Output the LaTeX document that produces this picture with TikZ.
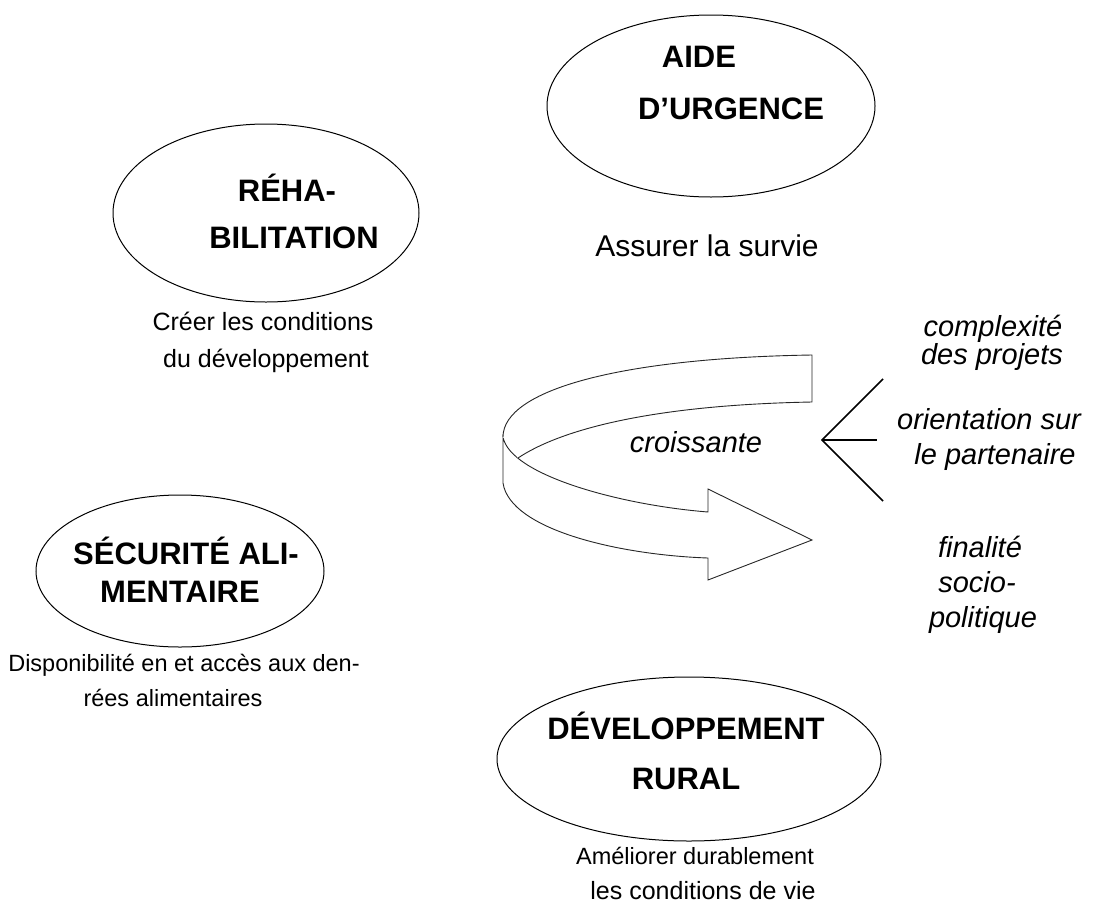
\documentclass[tikz,border=0pt]{standalone}
\usepackage{fontspec}
\setmainfont{Liberation Sans}
\usetikzlibrary{shapes.geometric}
\tikzstyle{phase}=[ellipse,draw,line width=1pt,inner sep=0pt]
\tikzstyle{head}=[font=\fontsize{31}{36}\selectfont\bfseries,anchor=base,inner sep=0pt]
\tikzstyle{goal}=[font=\fontsize{25}{30}\selectfont,anchor=base,inner sep=0pt]
\tikzstyle{trait}=[font=\fontsize{29}{34}\selectfont\itshape,anchor=base,inner sep=0pt]
\tikzstyle{band}=[draw=black!85,line width=0.9pt,fill=white]

\begin{document}
\begin{tikzpicture}[x=1pt,y=-1pt]
\useasboundingbox (0,0) rectangle (1094,921);

% ellipses
\node[phase,minimum width=328pt,minimum height=182pt] (urg) at (711,106) {};
\node[phase,minimum width=306pt,minimum height=178pt] (reh) at (266,213) {};
\node[phase,minimum width=288pt,minimum height=152pt] (sec) at (180,571) {};
\node[phase,minimum width=384pt,minimum height=164pt] (dev) at (689,759) {};

% titles
\node[head] (urg1) at (699,67)  {AIDE};
\node[head] (urg2) at (731,119) {D’URGENCE};
\node[head] (reh1) at (287,201) {RÉHA-};
\node[head] (reh2) at (294,248) {BILITATION};
\node[head] (sec1) at (186,564) {SÉCURITÉ ALI-};
\node[head] (sec2) at (180,602) {MENTAIRE};
\node[head] (dev1) at (686,739) {DÉVELOPPEMENT};
\node[head] (dev2) at (686,789) {RURAL};

% goals
\node[goal,font=\fontsize{30}{36}\selectfont] (urg3) at (707,256) {Assurer la survie};
\node[goal] (reh3) at (263,330) {Créer les conditions};
\node[goal] (reh4) at (266,367) {du développement};
\node[goal,font=\fontsize{23.5}{28}\selectfont] (sec3) at (184,671) {Disponibilité en et accès aux den-};
\node[goal,font=\fontsize{23.5}{28}\selectfont] (sec4) at (173,706) {rées alimentaires};
\node[goal,font=\fontsize{23.5}{28}\selectfont] (dev3) at (695,864) {Améliorer durablement};
\node[goal,font=\fontsize{25}{30}\selectfont] (dev4) at (703,899) {les conditions de vie};

% spiral arrow
\draw[band] (503,437) -- (503,483)
  .. controls (510,530) and (620,555) .. (708,558)
  -- (708,580) -- (812,540) -- (708,489) -- (708,512)
  .. controls (620,505) and (510,475) .. (503,437) -- cycle;
\draw[band] (503,437) .. controls (503,390) and (620,358) .. (812,355)
  -- (812,402) .. controls (650,405) and (560,430) .. (518,458);
\node[trait] (crs) at (696,452) {croissante};

% fork
\coordinate (fk) at (822,440);
\node[trait] (tr1) at (993,336) {complexité};
\node[trait] (tr2) at (992,364) {des projets};
\node[trait] (tr3) at (989,429) {orientation sur};
\node[trait] (tr4) at (995,464) {le partenaire};
\node[trait] (tr5) at (980,557) {finalité};
\node[trait] (tr6) at (977,592) {socio-};
\node[trait] (tr7) at (983,627) {politique};
\coordinate (fk1) at (883,379);
\coordinate (fk2) at (877,440);
\coordinate (fk3) at (883,501);
\draw[line width=1.6pt] (fk1) -- (fk) -- (fk3);
\draw[line width=2.6pt] (fk) -- (fk2);

\end{tikzpicture}
\end{document}
